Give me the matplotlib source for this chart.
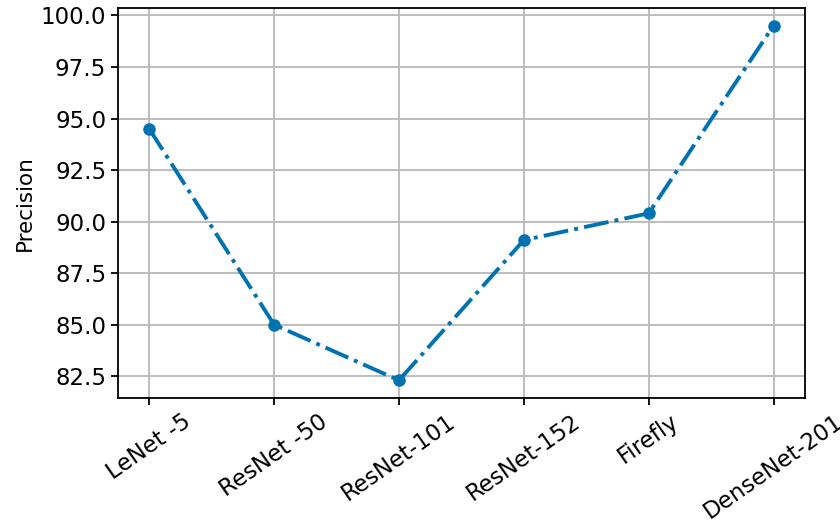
import matplotlib
matplotlib.use('Agg')
import matplotlib.pyplot as plt

models = ['LeNet -5', 'ResNet -50', 'ResNet-101', 'ResNet-152', 'Firefly', 'DenseNet-201']
precision = [94.5, 85.0, 82.3, 89.1, 90.4, 99.5]

plt.rcParams['font.size'] = 16.5

fig = plt.figure(figsize=(8.4, 5.21), dpi=100)
ax = fig.add_axes([0.1405, 0.236, 0.8175, 0.7486])

ax.plot(models, precision, color='#0072B2', linestyle='-.', linewidth=2.8,
        marker='o', markersize=8, zorder=3)
ax.set_ylabel('Precision', fontsize=15.5, labelpad=4)
ax.set_yticks([82.5, 85.0, 87.5, 90.0, 92.5, 95.0, 97.5, 100.0])
ax.yaxis.set_major_formatter(matplotlib.ticker.FormatStrFormatter('%.1f'))
ax.grid(True, color='#b8b8b8', linewidth=1.3)
ax.tick_params(axis='x', rotation=35, length=5, width=1.3)
ax.tick_params(axis='y', length=5, width=1.3)
for s in ax.spines.values():
    s.set_linewidth(1.3)

plt.savefig('out.png', dpi=100)
plt.close()
